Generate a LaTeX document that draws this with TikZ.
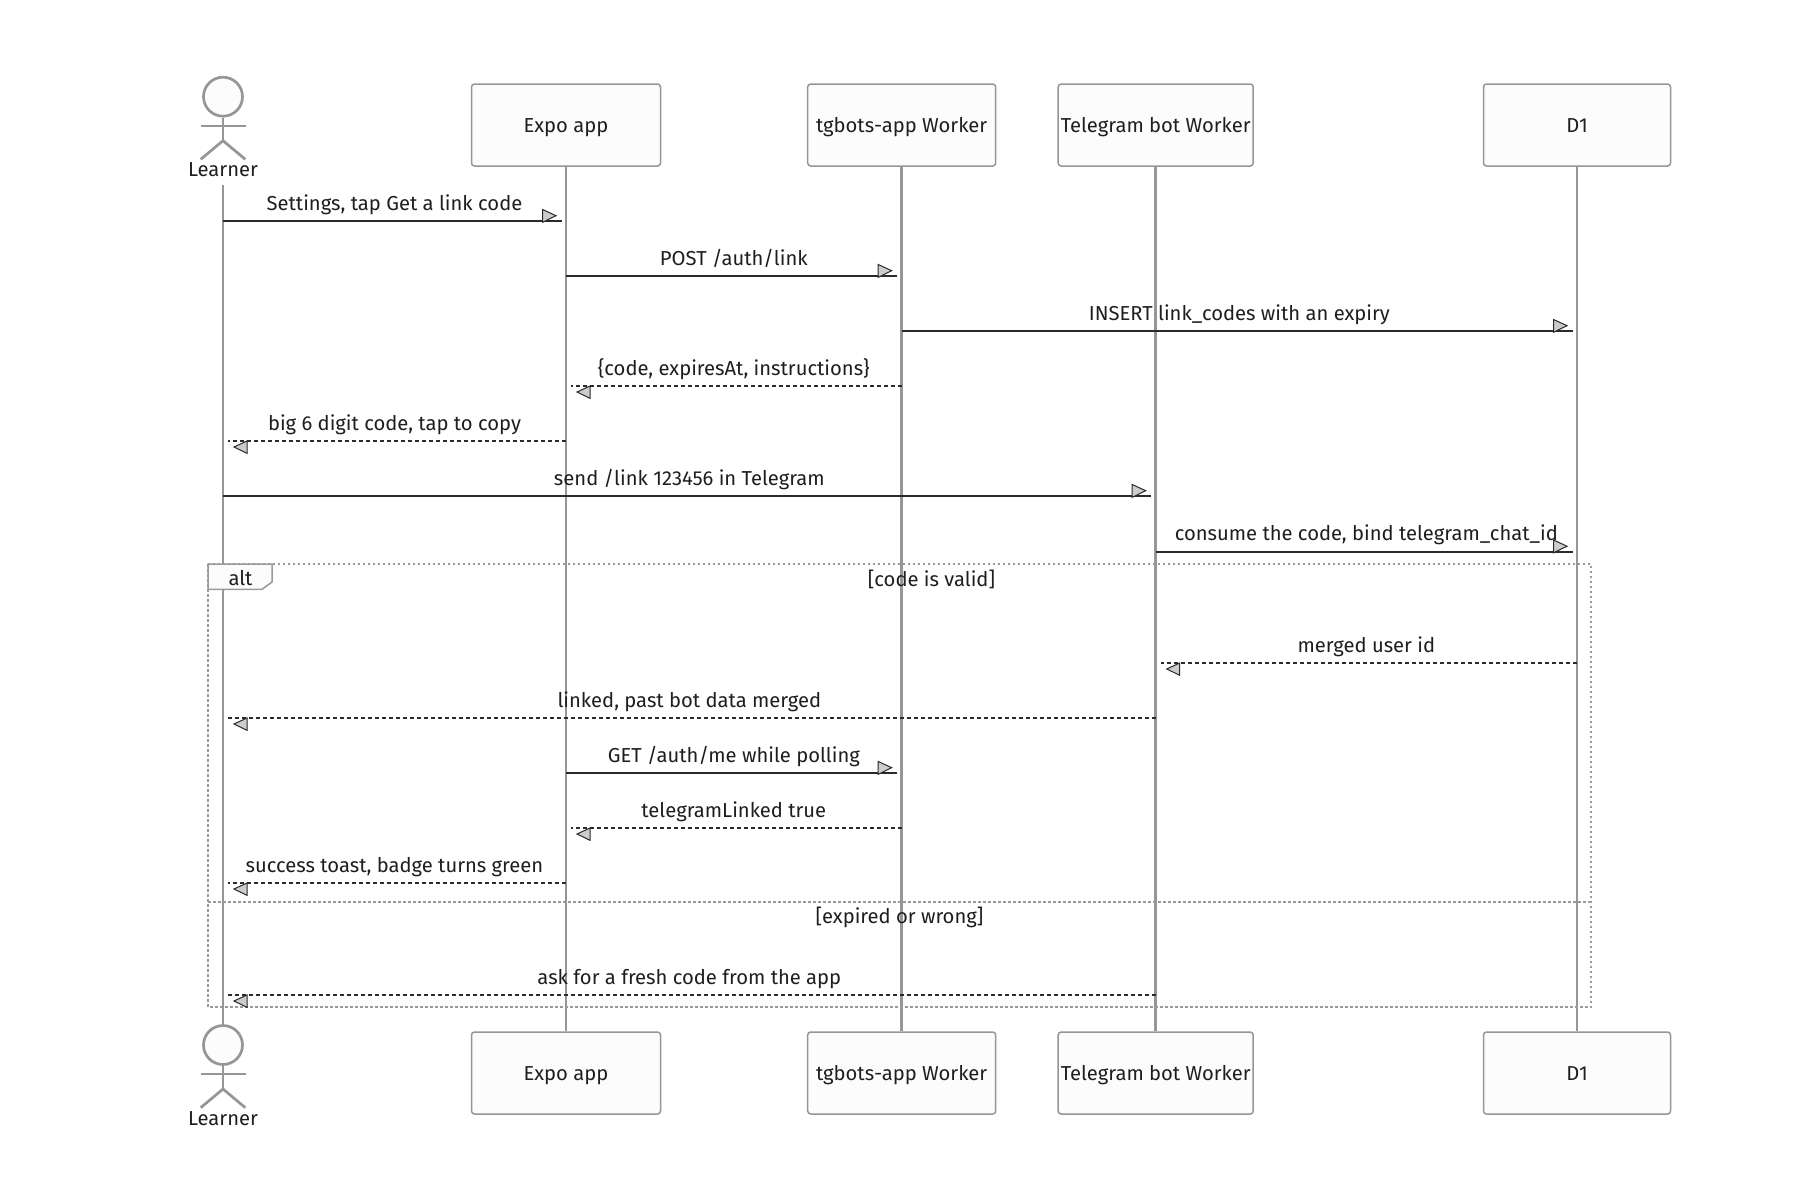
\documentclass[tikz,border=0pt]{standalone}
\usepackage{fontspec}
\setmainfont{Fira Sans}
\definecolor{life}{HTML}{969696}
\definecolor{ink}{HTML}{2A2A2A}
\definecolor{txt}{HTML}{1E1E1E}
\definecolor{tipfill}{HTML}{CCCCCC}
\definecolor{boxfill}{HTML}{FCFCFC}
\definecolor{altline}{HTML}{9A9A9A}
\tikzset{
  actorbox/.style={draw=life, fill=boxfill, line width=1.5pt, rounded corners=3pt,
    minimum height=82pt, text height=14pt, text depth=0pt, inner sep=0pt, text=txt},
  lifeline/.style={draw=life, line width=2.6pt},
  stick/.style={draw=life, line width=2.7pt},
  solidmsg/.style={draw=ink, line width=2pt},
  dashmsg/.style={draw=ink, line width=2pt, dash pattern=on 4pt off 3pt},
  tipst/.style={draw=ink, fill=tipfill, line width=1pt, line join=miter},
  msglabel/.style={anchor=base, inner sep=0pt, text=txt},
  altframe/.style={draw=altline, line width=2.1pt, dash pattern=on 2.5pt off 2.5pt},
  alttab/.style={draw=altline, fill=boxfill, line width=1.5pt},
}
% right-pointing message
\newcommand\rmsg[6]{%
  \coordinate (#1a) at (#2,#4);
  \coordinate (#1b) at ({#3-4.5},#4);
  \draw[#6] (#1a) -- (#1b);
  \filldraw[tipst] ({#3-23.5},{#4-11.5}) -- ({#3-10},{#4-5.3}) -- ({#3-23.5},{#4+1.3}) -- cycle;
  \node[msglabel] (#1t) at ({(#2+#3)/2},{#4-11}) {#5};
}
% left-pointing message
\newcommand\lmsg[6]{%
  \coordinate (#1a) at (#2,#4);
  \coordinate (#1b) at ({#3+5},#4);
  \draw[#6] (#1a) -- (#1b);
  \filldraw[tipst] ({#3+24},{#4}) -- ({#3+11},{#4+6}) -- ({#3+24},{#4+12.3}) -- cycle;
  \node[msglabel] (#1t) at ({(#2+#3)/2},{#4-11}) {#5};
}
\begin{document}
\begin{tikzpicture}[x=1pt,y=-1pt,font=\fontsize{20.2}{24}\selectfont]
\useasboundingbox (0,0) rectangle (1800,1200);
\fill[white] (0,0) rectangle (1800,1200);
\def\xL{223}\def\xE{566}\def\xT{901.7}\def\xB{1155.7}\def\xD{1577}
% actor boxes
\node[actorbox, minimum width=189pt] (expoT) at (\xE,125) {Expo app};
\node[actorbox, minimum width=188pt] (tgT) at (\xT,125) {tgbots-app Worker};
\node[actorbox, minimum width=195pt] (botT) at (\xB,125) {Telegram bot Worker};
\node[actorbox, minimum width=187pt] (d1T) at (\xD,125) {D1};
\node[actorbox, minimum width=189pt] (expoB) at (\xE,1073) {Expo app};
\node[actorbox, minimum width=188pt] (tgB) at (\xT,1073) {tgbots-app Worker};
\node[actorbox, minimum width=195pt] (botB) at (\xB,1073) {Telegram bot Worker};
\node[actorbox, minimum width=187pt] (d1B) at (\xD,1073) {D1};
% lifelines
\draw[lifeline] (expoT.south) -- (expoB.north);
\draw[lifeline] (tgT.south) -- (tgB.north);
\draw[lifeline] (botT.south) -- (botB.north);
\draw[lifeline] (d1T.south) -- (d1B.north);
\coordinate (lrnTop) at (\xL,185);
\coordinate (lrnBot) at (\xL,1025.5);
\draw[lifeline] (lrnTop) -- (lrnBot);
% learner stick figures
\node[stick, fill=boxfill, circle, minimum size=39pt, inner sep=0pt] (headT) at (\xL,96.7) {};
\draw[stick] (headT.south) -- (\xL,140.7) coordinate (hipT);
\draw[stick] (200.7,126) -- (245.7,126);
\draw[stick] (200.7,159.3) -- (hipT) -- (245.3,159.3);
\node[msglabel] (lrnLabT) at (\xL,176.7) {Learner};
\node[stick, fill=boxfill, circle, minimum size=39pt, inner sep=0pt] (headB) at (\xL,1045) {};
\draw[stick] (headB.south) -- (\xL,1089) coordinate (hipB);
\draw[stick] (200.7,1074) -- (245.7,1074);
\draw[stick] (200.7,1107.7) -- (hipB) -- (245.3,1107.7);
\node[msglabel] (lrnLabB) at (\xL,1125) {Learner};
% alt frame
\draw[altframe] (208,564) rectangle (1591,1007);
\draw[altframe] (208,902.3) -- (1591,902.3);
\filldraw[alttab] (208,564) -- (272,564) -- (272,582) -- (262,589.3) -- (208,589.3) -- cycle;
\node[msglabel] (altLab) at (240.5,585.7) {alt};
\node[msglabel] (guard1) at (931.5,586) {[code is valid]};
\node[msglabel] (guard2) at (899.5,923) {[expired or wrong]};
% messages
\rmsg{m1}{\xL}{\xE}{221}{Settings, tap Get a link code}{solidmsg}
\rmsg{m2}{\xE}{\xT}{276}{POST /auth/link}{solidmsg}
\rmsg{m3}{\xT}{\xD}{331}{INSERT link\_codes with an expiry}{solidmsg}
\lmsg{m4}{\xT}{\xE}{386}{\{code, expiresAt, instructions\}}{dashmsg}
\lmsg{m5}{\xE}{\xL}{441}{big 6 digit code, tap to copy}{dashmsg}
\rmsg{m6}{\xL}{\xB}{496}{send /link 123456 in Telegram}{solidmsg}
\rmsg{m7}{\xB}{\xD}{551.5}{consume the code, bind telegram\_chat\_id}{solidmsg}
\lmsg{m8}{\xD}{\xB}{663}{merged user id}{dashmsg}
\lmsg{m9}{\xB}{\xL}{718}{linked, past bot data merged}{dashmsg}
\rmsg{m10}{\xE}{\xT}{773}{GET /auth/me while polling}{solidmsg}
\lmsg{m11}{\xT}{\xE}{828}{telegramLinked true}{dashmsg}
\lmsg{m12}{\xE}{\xL}{883}{success toast, badge turns green}{dashmsg}
\lmsg{m13}{\xB}{\xL}{995}{ask for a fresh code from the app}{dashmsg}
\end{tikzpicture}
\end{document}
